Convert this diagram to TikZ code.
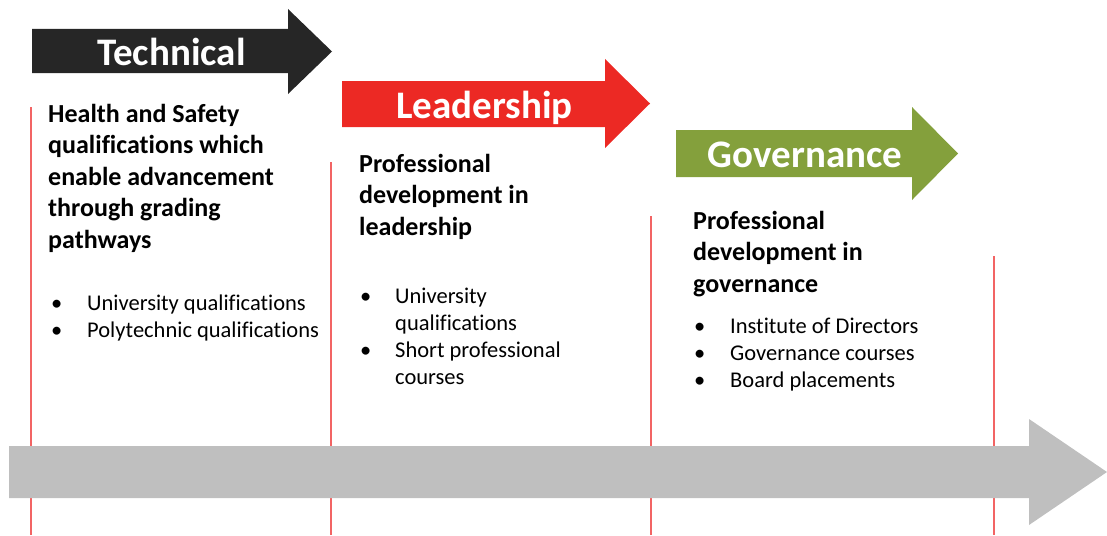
\documentclass[tikz,border=0pt]{standalone}
\usepackage{fontspec}
\setmainfont{Carlito}[Ligatures=CommonOff]
\usepackage{tikz}
\usetikzlibrary{positioning}

\definecolor{techblack}{RGB}{38,38,38}
\definecolor{leadred}{RGB}{236,41,36}
\definecolor{govgreen}{RGB}{132,160,60}
\definecolor{timegray}{RGB}{191,191,191}
\definecolor{markred}{RGB}{242,100,100}

\begin{document}
\begin{tikzpicture}[
            x = 1pt, y = -1pt, % work in pixel units, y down
            stage/.style = {
                text = white,
                font = \fontsize{39}{42}\selectfont\bfseries,
                inner sep = 0pt,
                anchor = base
            },
            headtext/.style = {
                font = \fontsize{26}{31.6}\selectfont\bfseries,
                inner sep = 0pt,
                anchor = base west
            },
            itemtext/.style = {
                font = \fontsize{22.5}{27.2}\selectfont,
                inner sep = 0pt,
                anchor = base west
            },
            marker/.style = {
                draw = markred,
                line width = 1.5pt
            }
        ]

        \useasboundingbox (0,0) rectangle (1107,535);

        % stage markers
        \draw[marker] (31,107) -- (31,535);
        \draw[marker] (331,162) -- (331,535);
        \draw[marker] (651,216) -- (651,535);
        \draw[marker] (994,256) -- (994,535);

        % timeline
        \fill[timegray] (9,446) -- (1029,446) -- (1029,419) -- (1107,472)
            -- (1029,525) -- (1029,498) -- (9,498) -- cycle;

        % stage arrows
        \fill[techblack] (32,29) -- (288,29) -- (288,9) -- (332,51.5)
            -- (288,94) -- (288,73) -- (32,73) -- cycle;
        \fill[leadred] (342,81) -- (605,81) -- (605,59) -- (650,103.5)
            -- (605,148) -- (605,127) -- (342,127) -- cycle;
        \fill[govgreen] (676,130) -- (912,130) -- (912,107) -- (958,153.5)
            -- (912,200) -- (912,177) -- (676,177) -- cycle;

        \node[stage] (tech) at (171.5,65) {Technical};
        \node[stage] (lead) at (484.5,118) {Leadership};
        \node[stage] (gov) at (805,167) {Governance};

        % descriptions, first baseline at the node
        \node[headtext] (techhead) at (48,122) {%
            \begin{tabular}[t]{@{}l@{}}
            Health and Safety\\
            qualifications which\\
            enable advancement\\
            through grading\\
            pathways
            \end{tabular}};
        \node[headtext] (leadhead) at (359,172) {%
            \begin{tabular}[t]{@{}l@{}}
            Professional\\
            development in\\
            leadership
            \end{tabular}};
        \node[headtext] (govhead) at (693,229) {%
            \begin{tabular}[t]{@{}l@{}}
            Professional\\
            development in\\
            governance
            \end{tabular}};

        % qualification lists
        \node[itemtext] (techlist) at (51,310) {%
            \begin{tabular}[t]{@{}p{36pt}@{}l@{}}
            \textbullet & University qualifications\\
            \textbullet & Polytechnic qualifications
            \end{tabular}};
        \node[itemtext] (leadlist) at (360,303) {%
            \begin{tabular}[t]{@{}p{35pt}@{}l@{}}
            \textbullet & University\\
                        & qualifications\\
            \textbullet & Short professional\\
                        & courses
            \end{tabular}};
        \node[itemtext] (govlist) at (694,333) {%
            \begin{tabular}[t]{@{}p{36pt}@{}l@{}}
            \textbullet & Institute of Directors\\
            \textbullet & Governance courses\\
            \textbullet & Board placements
            \end{tabular}};

  \end{tikzpicture}
\end{document}
